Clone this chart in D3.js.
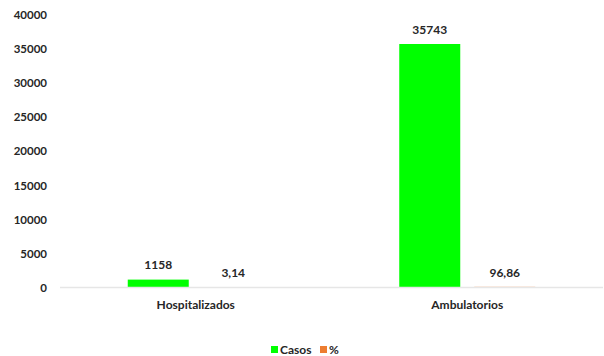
<!DOCTYPE html>
<html><head><meta charset="utf-8">
<script src="https://cdn.jsdelivr.net/npm/d3@7"></script>
<style>body{margin:0;background:#fff}svg{display:block}text{font-family:Lato,"Open Sans",sans-serif;font-weight:bold;fill:#262626}</style>
</head><body><div id="chart"></div>
<script>
const categories = ["Hospitalizados", "Ambulatorios"];
const seriesNames = ["Casos", "%"];
const casos = [1158, 35743];
const pct = [3.14, 96.86];
const pctLabels = ["3,14", "96,86"];
const yTicks = [0, 5000, 10000, 15000, 20000, 25000, 30000, 35000, 40000];
const colors = ["#00ff00", "#ed7d31"];

const W = 604, H = 356;
const svg = d3.select("#chart").append("svg").attr("width", W).attr("height", H);
const mLeft = 60, mRight = 603, mTop = 15, mBottom = 287.5;

const x = d3.scaleBand().domain(categories).range([mLeft, mRight]);
const y = d3.scaleLinear().domain([0, 40000]).range([mBottom, mTop]);
const barW = 61, offset = 37.5;

// y tick labels
const yAxis = d3.axisLeft(y).tickValues(yTicks).tickSize(0).tickPadding(0).tickFormat(d3.format("d"));
const ga = svg.append("g").attr("transform", `translate(${47},0)`).call(yAxis);
ga.select(".domain").remove();
ga.selectAll("text").style("font-size", "11.5px").style("font-family", "Lato, sans-serif").style("font-weight", "bold").attr("fill", "#262626");

// bars
const c = d => x(d) + x.bandwidth() / 2;
svg.selectAll(".casos").data(categories).enter().append("rect")
  .attr("x", (d) => c(d) - offset - barW / 2).attr("width", barW)
  .attr("y", (d, i) => y(casos[i])).attr("height", (d, i) => mBottom - y(casos[i]))
  .attr("fill", colors[0]);
svg.selectAll(".pct").data(categories).enter().append("rect")
  .attr("x", (d) => c(d) + offset - barW / 2).attr("width", barW)
  .attr("y", (d, i) => y(pct[i])).attr("height", (d, i) => mBottom - y(pct[i]))
  .attr("fill", colors[1]);

// baseline
svg.append("line").attr("x1", mLeft).attr("x2", mRight).attr("y1", mBottom).attr("y2", mBottom)
  .attr("stroke", "#e6e6e6").attr("stroke-width", 1.5);

// value labels
svg.selectAll(".lc").data(categories).enter().append("text")
  .attr("x", d => c(d) - offset).attr("y", (d, i) => y(casos[i]) - 10.5)
  .attr("text-anchor", "middle").style("font-size", "12px").text((d, i) => casos[i]);
svg.selectAll(".lp").data(categories).enter().append("text")
  .attr("x", d => c(d) + offset).attr("y", (d, i) => y(pct[i]) - 10)
  .attr("text-anchor", "middle").style("font-size", "12px").text((d, i) => pctLabels[i]);

// category labels
svg.selectAll(".cat").data(categories).enter().append("text")
  .attr("x", d => c(d)).attr("y", 309).attr("text-anchor", "middle")
  .style("font-size", "12px").text(d => d);

// legend
const lg = svg.append("g");
const legX = [271, 320];
seriesNames.forEach((s, i) => {
  lg.append("rect").attr("x", legX[i]).attr("y", 346).attr("width", 7).attr("height", 7).attr("fill", colors[i]);
  lg.append("text").attr("x", legX[i] + 9).attr("y", 354).style("font-size", "12px").text(s);
});
</script></body></html>
